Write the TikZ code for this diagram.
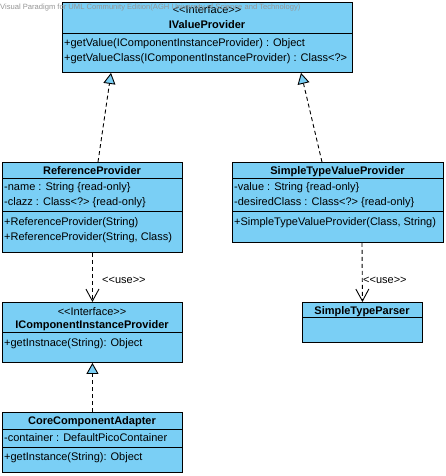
\documentclass[tikz,border=0pt]{standalone}
\usepackage{fontspec}
\setmainfont{Liberation Sans}[Ligatures=TeXOff]
\usetikzlibrary{arrows.meta,calc}
\definecolor{vpblue}{RGB}{122,207,245}
\definecolor{wmgray}{RGB}{150,150,150}
\tikzset{
  cls/.style={draw=black, fill=vpblue, line width=0.9pt, rectangle, inner sep=0pt, anchor=north west},
  sepline/.style={draw=black, line width=0.9pt},
  member/.style={anchor=base west, inner sep=0pt, font=\fontsize{11}{13}\selectfont},
  clsname/.style={anchor=base, inner sep=0pt, font=\fontsize{11}{13}\selectfont\bfseries},
  stereo/.style={anchor=base, inner sep=0pt, font=\fontsize{11}{13}\selectfont},
  uselabel/.style={anchor=base west, inner sep=0pt, font=\fontsize{11}{13}\selectfont},
  realize/.style={draw=black, line width=0.9pt, dash pattern=on 4pt off 3pt, -{Triangle[length=11pt,width=12pt,fill=vpblue,line width=0.9pt]}},
  usedep/.style={draw=black, line width=0.9pt, dash pattern=on 4pt off 3pt, -{Straight Barb[length=12pt,width=13pt,line width=0.9pt]}},
  watermark/.style={anchor=base west, inner sep=0pt, text=wmgray, font=\fontsize{7.6}{9}\selectfont}
}
\begin{document}
\begin{tikzpicture}[x=1pt,y=-1pt]
\useasboundingbox (0,0) rectangle (446,476);
\fill[white] (0,0) rectangle (446,476);

% IValueProvider
\node[cls, minimum width=290pt, minimum height=70pt] (ivp) at (62,2) {};
\draw[sepline] (62,33) -- (352,33);
\node[stereo] (ivps) at (207,14) {<<Interface>>};
\node[clsname] (ivpn) at (207,29) {IValueProvider};
\node[member] (ivpo1) at (64,46.5) {+getValue(IComponentInstanceProvider) : Object};
\node[member] (ivpo2) at (64,61.5) {+getValueClass(IComponentInstanceProvider) : Class<?>};

% ReferenceProvider
\node[cls, minimum width=180pt, minimum height=90pt] (rp) at (2,162) {};
\draw[sepline] (2,178) -- (182,178);
\draw[sepline] (2,211) -- (182,211);
\node[clsname] (rpn) at (92,174) {ReferenceProvider};
\node[member] (rpa1) at (4,190) {-name : String \{read-only\}};
\node[member] (rpa2) at (4,205.5) {-clazz : Class<?> \{read-only\}};
\node[member] (rpo1) at (4,225) {+ReferenceProvider(String)};
\node[member] (rpo2) at (4,240.5) {+ReferenceProvider(String, Class)};

% SimpleTypeValueProvider
\node[cls, minimum width=211pt, minimum height=80pt] (stvp) at (232,162) {};
\draw[sepline] (232,178) -- (443,178);
\draw[sepline] (232,211) -- (443,211);
\node[clsname] (stvpn) at (337.5,174) {SimpleTypeValueProvider};
\node[member] (stvpa1) at (234,190) {-value : String \{read-only\}};
\node[member] (stvpa2) at (234,205.5) {-desiredClass : Class<?> \{read-only\}};
\node[member] (stvpo1) at (234,225) {+SimpleTypeValueProvider(Class, String)};

% IComponentInstanceProvider
\node[cls, minimum width=180pt, minimum height=60pt] (icip) at (2,302) {};
\draw[sepline] (2,332) -- (182,332);
\node[stereo] (icips) at (92,315) {<<Interface>>};
\node[clsname] (icipn) at (92,328.5) {IComponentInstanceProvider};
\node[member] (icipo1) at (4,346) {+getInstnace(String): Object};

% CoreComponentAdapter
\node[cls, minimum width=180pt, minimum height=60pt] (cca) at (2,412) {};
\draw[sepline] (2,429) -- (182,429);
\draw[sepline] (2,447) -- (182,447);
\node[clsname] (ccan) at (92,424.5) {CoreComponentAdapter};
\node[member] (ccaa1) at (4,441.5) {-container : DefaultPicoContainer};
\node[member] (ccao1) at (4,460.5) {+getInstance(String): Object};

% SimpleTypeParser
\node[cls, minimum width=120pt, minimum height=40pt] (stp) at (302,302) {};
\draw[sepline] (302,317) -- (422,317);
\node[clsname] (stpn) at (362,314) {SimpleTypeParser};

% connectors
\coordinate (rptop) at ($(rp.north west)+(96,0)$);
\coordinate (ivpleft) at ($(ivp.south west)+(49,0)$);
\coordinate (stvptop) at ($(stvp.north west)+(90,0)$);
\coordinate (ivpright) at ($(ivp.south west)+(239,0)$);
\coordinate (stvpbot) at ($(stvp.south west)+(130,0)$);
\draw[realize] (rptop) -- (ivpleft);
\draw[realize] (stvptop) -- (ivpright);
\draw[usedep] (rp.south) -- (icip.north);
\draw[usedep] (stvpbot) -- (stp.north);
\draw[realize] (cca.north) -- (icip.south);
\node[uselabel] (use1) at (102,283) {<<use>>};
\node[uselabel] (use2) at (363,283) {<<use>>};

% watermark
\node[watermark] (wm) at (0,10) {Visual Paradigm for UML Community Edition(AGH University of Science and Technology)};
\end{tikzpicture}
\end{document}
